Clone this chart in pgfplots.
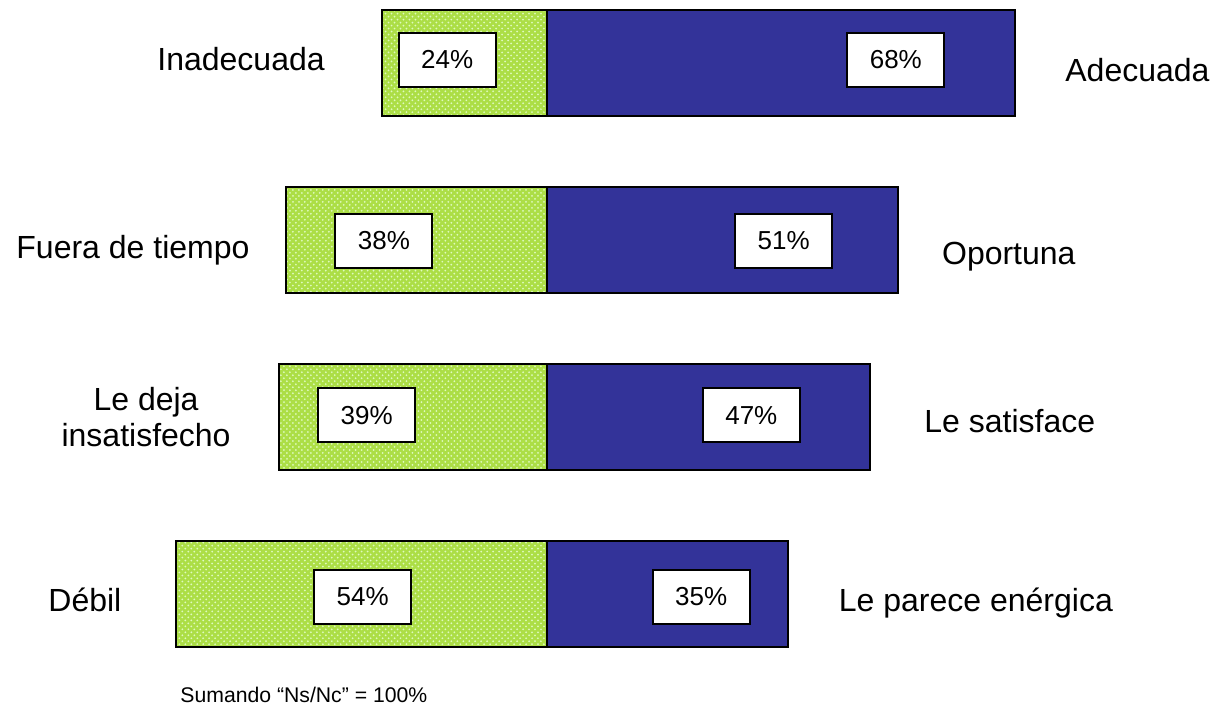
\documentclass[border=0pt]{standalone}
\usepackage{pgfplots}
\pgfplotsset{compat=1.18}
\usepackage{pgfplotstable}
\usetikzlibrary{patterns}
\usepackage{fontspec}
\setmainfont{Liberation Sans}
\definecolor{barblue}{RGB}{51,51,153}
\definecolor{bargreen}{RGB}{172,222,70}
\definecolor{dotgreen}{RGB}{222,250,190}
\newcommand\lbl{\fontsize{16bp}{19bp}\selectfont}
\newcommand\boxf{\fontsize{13bp}{15bp}\selectfont}
\newcommand\notef{\fontsize{10.6bp}{13bp}\selectfont}

% negative side (green), positive side (blue); y = row position
\pgfplotstableread{
y val
63 -24
240 -38
417 -39
594 -54
}\negtab
\pgfplotstableread{
y val
63 68
240 51
417 47
594 35
}\postab
% label boxes
\pgfplotstableread{
x y v
-14.5 60 24
50.7 60 68
-23.7 241 38
34.4 241 51
-26.2 415.5 39
29.7 415.5 47
-26.8 597 54
22.4 597 35
}\labtab

\begin{document}
\begin{tikzpicture}
\begin{axis}[
  scale only axis,
  width=606bp, height=355bp,
  xmin=-79.51, xmax=96.66,
  ymin=0, ymax=710,
  y dir=reverse,
  hide axis,
  clip=false,
]
\addplot[xbar, bar width=106, bar shift=0pt, fill=bargreen, draw=black, line width=1bp,
  postaction={pattern=crosshatch dots, pattern color=dotgreen}]
  table[x=val, y=y] {\negtab};
\addplot[xbar, bar width=106, bar shift=0pt, fill=barblue, draw=black, line width=1bp]
  table[x=val, y=y] {\postab};
\addplot[draw=none, mark=none, point meta=explicit symbolic,
  nodes near coords={\pgfplotspointmeta\%},
  nodes near coords style={anchor=center, draw=black, fill=white, line width=1bp,
    minimum width=48.5bp, minimum height=27bp, inner sep=0pt, font=\boxf, text=black}]
  table[x=x, y=y, meta=v] {\labtab};

\node[anchor=base west, inner sep=0pt, font=\lbl] at (axis cs:-56.69,70.7) {Inadecuada};
\node[anchor=base west, inner sep=0pt, font=\lbl] at (axis cs:75.29,82) {Adecuada};
\node[anchor=base west, inner sep=0pt, font=\lbl] at (axis cs:-77.18,258.3) {Fuera de tiempo};
\node[anchor=base west, inner sep=0pt, font=\lbl] at (axis cs:57.37,265) {Oportuna};
\node[anchor=base, inner sep=0pt, font=\lbl] at (axis cs:-58.28,410.7) {Le deja};
\node[anchor=base, inner sep=0pt, font=\lbl] at (axis cs:-58.28,447) {insatisfecho};
\node[anchor=base west, inner sep=0pt, font=\lbl] at (axis cs:54.8,432.7) {Le satisface};
\node[anchor=base west, inner sep=0pt, font=\lbl] at (axis cs:-72.53,611.7) {Débil};
\node[anchor=base west, inner sep=0pt, font=\lbl] at (axis cs:42.37,611.7) {Le parece enérgica};
\node[anchor=base west, inner sep=0pt, font=\notef] at (axis cs:-53.34,703) {Sumando “Ns/Nc” = 100\%};

\coordinate (A) at (rel axis cs:0,0);
\coordinate (B) at (rel axis cs:1,1);
\end{axis}
\pgfresetboundingbox
\path (A) rectangle (B);
\end{tikzpicture}
\end{document}
